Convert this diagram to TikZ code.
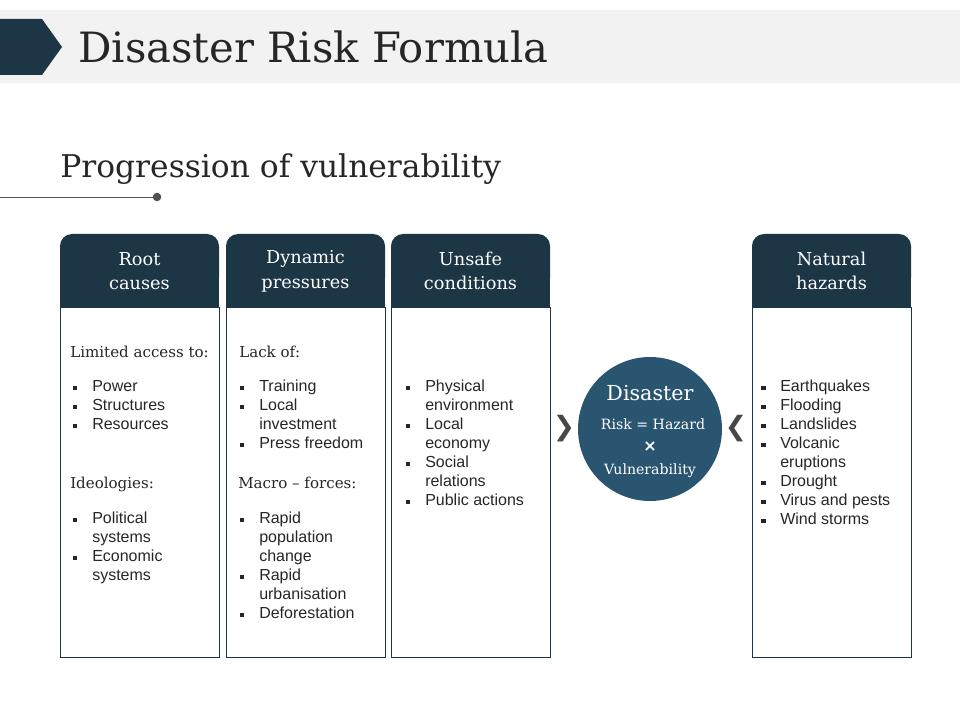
\documentclass[tikz,border=0pt]{standalone}
\usepackage{fontspec}
\setmainfont{DejaVu Serif}
\newfontfamily\arialfont{Liberation Sans}
\newfontfamily\symfont{DejaVu Sans}
\usetikzlibrary{positioning}
\definecolor{navy}{HTML}{1D3646}
\definecolor{disc}{HTML}{2A5570}
\definecolor{band}{HTML}{F2F2F2}
\definecolor{ink}{HTML}{262626}
\newcommand{\bul}{\rule[0.2ex]{0.5ex}{0.5ex}}
\newcommand{\blist}[1]{{\arialfont\fontsize{12}{14.25}\selectfont
  \begin{tabular}{@{}p{14.25pt}@{}l@{}}#1\end{tabular}}}
\tikzset{
  head/.style={text=white, font=\fontsize{13.3}{18.5}\selectfont, align=center},
  body/.style={draw=navy, line width=0.6pt},
  lead/.style={anchor=base west, text=ink, inner sep=0pt, font=\fontsize{11.3}{16}\selectfont},
  list/.style={anchor=north west, text=ink, inner sep=0pt},
  chev/.style={text=ink!85, font=\symfont\bfseries\fontsize{20}{20}\selectfont}
}
\begin{document}
\begin{tikzpicture}[x=0.75pt,y=-0.75pt]
  \useasboundingbox (0,0) rectangle (960,720);
  % title band
  \fill[band] (0,10) rectangle (960,83);
  \fill[navy] (0,19) -- (42,19) -- (62,47) -- (42,75) -- (0,75) -- cycle;
  \node[anchor=base west, inner sep=0pt, text=ink, font=\fontsize{31.3}{31}\selectfont] (title) at (78,63) {Disaster Risk Formula};
  \node[anchor=base west, inner sep=0pt, text=ink, font=\fontsize{23.5}{23}\selectfont] (sub) at (60,178) {Progression of vulnerability};
  \coordinate (lineL) at (0,197);
  \coordinate (lineR) at (157,197);
  \draw[ink!80, line width=0.6pt] (lineL) -- (lineR);
  \fill[ink!80] (lineR) circle [radius=3.2pt];
  % columns
  \foreach \x/\name/\txt in {60/root/Root\\causes, 226/dyn/Dynamic\\pressures, 391/unsafe/Unsafe\\conditions, 752/nat/Natural\\hazards} {
    \draw[body] (\x,307) rectangle (\x+159,657);
    \fill[navy, rounded corners=9pt] (\x,234) rectangle (\x+159,290);
    \fill[navy] (\x,270) rectangle (\x+159,307);
    \node[head] (\name) at (\x+79.5,271) {\txt};
  }
  % root causes
  \node[lead] (limited) at (70,357) {Limited access to:};
  \node[list] (rootA) at (73,378) {\blist{\bul&Power\\\bul&Structures\\\bul&Resources}};
  \node[lead] (ideo) at (70,488) {Ideologies:};
  \node[list] (rootB) at (73,510) {\blist{\bul&Political\\&systems\\\bul&Economic\\&systems}};
  % dynamic pressures
  \node[lead] (lack) at (239,357) {Lack of:};
  \node[list] (dynA) at (240,378) {\blist{\bul&Training\\\bul&Local\\&investment\\\bul&Press freedom}};
  \node[lead] (macro) at (238,488) {Macro -- forces:};
  \node[list] (dynB) at (240,510) {\blist{\bul&Rapid\\&population\\&change\\\bul&Rapid\\&urbanisation\\\bul&Deforestation}};
  % unsafe conditions
  \node[list] (unsA) at (406,378) {\blist{\bul&Physical\\&environment\\\bul&Local\\&economy\\\bul&Social\\&relations\\\bul&Public actions}};
  % natural hazards
  \node[list] (natA) at (761,378) {\blist{\bul&Earthquakes\\\bul&Flooding\\\bul&Landslides\\\bul&Volcanic\\&eruptions\\\bul&Drought\\\bul&Virus and pests\\\bul&Wind storms}};
  % disaster
  \node[circle, fill=disc, minimum size=144pt*0.75, inner sep=0pt] (disaster) at (650,429) {};
  \node[text=white, font=\fontsize{15.5}{15}\selectfont] (dtitle) at (650,393) {Disaster};
  \node[text=white, font=\fontsize{10.6}{10}\selectfont] (risk) at (653,424) {Risk = Hazard};
  \node[text=white, font=\symfont\bfseries\fontsize{12}{12}\selectfont] (times) at (650,447) {×};
  \node[text=white, font=\fontsize{10.6}{10}\selectfont] (vuln) at (650,471) {Vulnerability};
  \node[chev] (chevL) at (564,429) {❯};
  \node[chev] (chevR) at (736,429) {❮};
\end{tikzpicture}
\end{document}
